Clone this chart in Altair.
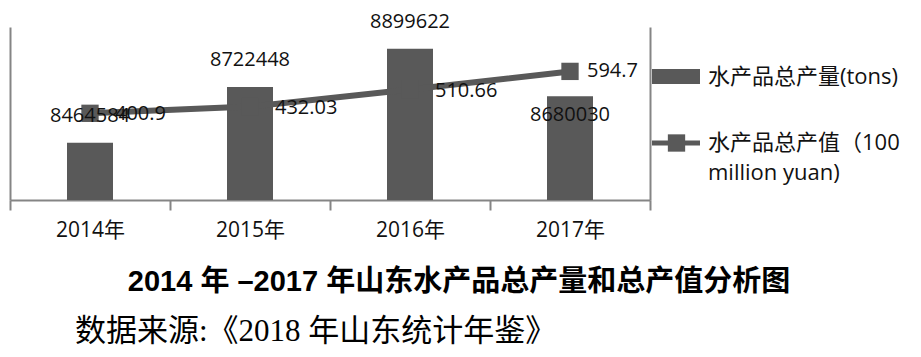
import altair as alt
import pandas as pd

# Shandong aquatic products: total output (tons) and total output value (100 million yuan)
years = ["2014年", "2015年", "2016年", "2017年"]
output_tons = [8464584, 8722448, 8899622, 8680030]
output_value = [400.9, 432.03, 510.66, 594.7]

legend_tons = "水产品总产量(tons)"
legend_value_1 = "水产品总产值（100"
legend_value_2 = "million yuan)"
chart_title = "2014 年 –2017 年山东水产品总产量和总产值分析图"
source_note = "数据来源:《2018 年山东统计年鉴》"

df = pd.DataFrame({"year": years, "tons": output_tons, "value": output_value})

GRAY = "#595959"
AXIS = "#858585"
TEXT = "#111111"
SANS = "Open Sans, Noto Sans CJK SC"
TONS_MIN, TONS_MAX = 8200000, 9000000
VALUE_MAX = 800

x_enc = alt.X(
    "year:N",
    sort=years,
    title=None,
    scale=alt.Scale(paddingInner=0, paddingOuter=0),
    axis=alt.Axis(
        labelAngle=0,
        labelFont=SANS,
        labelFontSize=21,
        labelColor=TEXT,
        labelPadding=9,
        domainColor=AXIS,
        domainWidth=2,
        tickBand="extent",
        tickSize=10,
        tickColor=AXIS,
        tickWidth=2,
        grid=False,
    ),
)

tons_scale = alt.Scale(domain=[TONS_MIN, TONS_MAX], zero=False, nice=False)
value_scale = alt.Scale(domain=[0, VALUE_MAX], nice=False)

y_tons_axis = alt.Y(
    "tons:Q", scale=tons_scale,
    axis=alt.Axis(labels=False, ticks=False, grid=False, title=None,
                  domainColor=AXIS, domainWidth=2),
)
y_value_axis = alt.Y(
    "value:Q", scale=value_scale,
    axis=alt.Axis(orient="right", labels=False, ticks=False, grid=False, title=None,
                  domainColor=AXIS, domainWidth=2),
)
# same scales without axes, for the layers drawn on top
y_tons = alt.Y("tons:Q", scale=tons_scale, axis=None)
y_value = alt.Y("value:Q", scale=value_scale, axis=None)

base = alt.Chart(df)
x_plain = alt.X("year:N", sort=years)

bars = base.mark_bar(size=46, color=GRAY).encode(
    x=x_enc, y=y_tons_axis, y2=alt.datum(TONS_MIN)
)
line = base.mark_line(color=GRAY, strokeWidth=6).encode(x=x_plain, y=y_value_axis)
markers = base.mark_point(shape="square", filled=True, size=300, color=GRAY, opacity=1).encode(
    x=x_plain, y=y_value
)

label_style = dict(font=SANS, fontSize=20, color=TEXT, baseline="middle")
bar_labels_above = base.mark_text(dy=-27, **label_style).encode(
    x=x_plain, y=y_tons, text=alt.Text("tons:Q", format="d"),
).transform_filter(alt.datum.year != "2017年")
bar_labels_inside = base.mark_text(dy=19, **label_style).encode(
    x=x_plain, y=y_tons, text=alt.Text("tons:Q", format="d"),
).transform_filter(alt.datum.year == "2017年")
value_labels = base.mark_text(align="left", dx=25, dy=1, **label_style).encode(
    x=x_plain, y=y_value, text=alt.Text("value:Q", format=".2~f"),
).transform_filter(alt.datum.year != "2017年")
value_labels_last = base.mark_text(align="left", dx=17, **label_style).encode(
    x=x_plain, y=y_value, text=alt.Text("value:Q", format=".2~f"),
).transform_filter(alt.datum.year == "2017年")

one = pd.DataFrame({"k": [0]})

legend_swatch = alt.Chart(one).mark_rect(color=GRAY).encode(
    x=alt.value(642), x2=alt.value(690), y=alt.value(42), y2=alt.value(57)
)
legend_line = alt.Chart(one).mark_rule(color=GRAY, strokeWidth=5).encode(
    x=alt.value(642), x2=alt.value(690), y=alt.value(116)
)
legend_marker = alt.Chart(one).mark_point(
    shape="square", filled=True, size=300, color=GRAY, opacity=1
).encode(x=alt.value(666.5), y=alt.value(116))


def note(text, x, y, **style):
    return alt.Chart(pd.DataFrame({"t": [text]})).mark_text(**style).encode(
        text="t:N", x=alt.value(x), y=alt.value(y)
    )


legend_style = dict(font=SANS, fontSize=22, color=TEXT, align="left", baseline="middle")
legend_text = [
    note(legend_tons, 698, 50, **legend_style),
    note(legend_value_1, 698, 116, **legend_style),
    note(legend_value_2, 698, 146, **legend_style),
]
title_text = note(chart_title, 449, 255, font="Liberation Sans, Noto Sans CJK SC",
                  fontSize=29, fontWeight="bold", color="#000000",
                  align="center", baseline="middle")
source_text = note(source_note, 65, 305, font="Liberation Serif, Noto Sans CJK SC",
                   fontSize=31, color="#000000", align="left", baseline="middle")

chart = (
    alt.layer(
        bars,
        line,
        markers,
        bar_labels_above,
        bar_labels_inside,
        value_labels,
        value_labels_last,
        legend_swatch,
        legend_line,
        legend_marker,
        *legend_text,
        title_text,
        source_text,
    )
    .resolve_scale(y="independent")
    .properties(
        width=640,
        height=173,
        autosize=alt.AutoSizeParams(type="none"),
        padding={"left": 10, "top": 27, "right": 271, "bottom": 157},
        background="white",
    )
    .configure_view(stroke=None)
)

chart.save("out.html", embed_options={"renderer": "svg", "actions": False})
